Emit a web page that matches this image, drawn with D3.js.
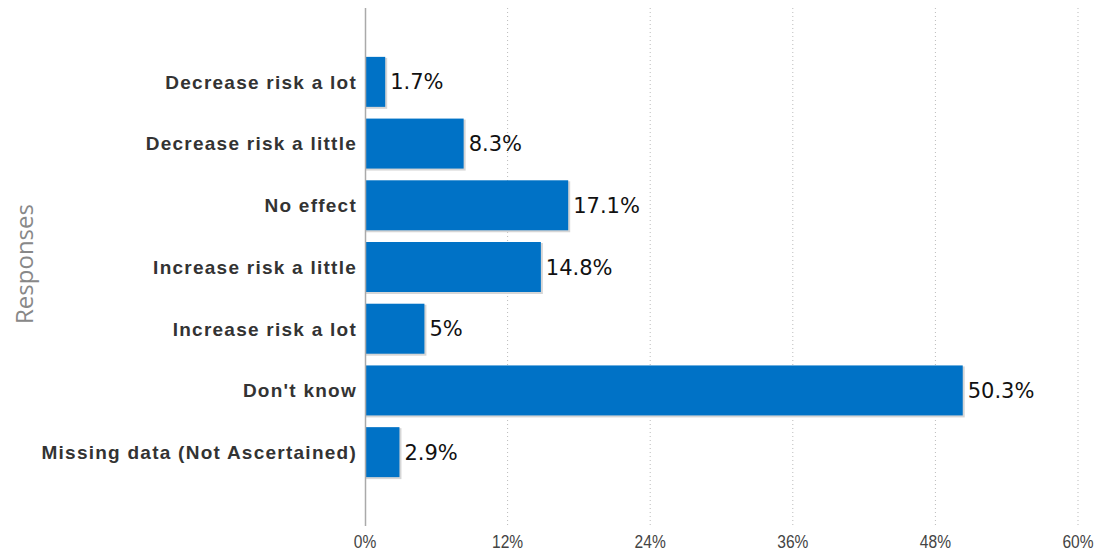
<!DOCTYPE html>
<html>
<head>
<meta charset="utf-8">
<script src="https://cdn.jsdelivr.net/npm/d3@7"></script>
<style>
  body { margin: 0; background: #fff; }
  svg { display: block; }
</style>
</head>
<body>
<svg id="chart" width="1099" height="553"></svg>
<script>
// categories top to bottom
const categories = [
    "Decrease risk a lot",
    "Decrease risk a little",
    "No effect",
    "Increase risk a little",
    "Increase risk a lot",
    "Don't know",
    "Missing data (Not Ascertained)"
];
const values = [1.7, 8.3, 17.1, 14.8, 5, 50.3, 2.9];
const tickValues = [0, 12, 24, 36, 48, 60];

const svg = d3.select("#chart");
const left = 365, right = 1078;
const plotTop = 8, plotBottom = 526;

let x = d3.scaleLinear().domain([0, 60]).range([left, right]);
let y = d3.scaleBand().domain(categories).range([51, 483]).paddingInner(0.19).paddingOuter(0.095);

// dotted grid
svg.append("g")
    .selectAll("line")
    .data(tickValues.slice(1))
    .enter()
    .append("line")
    .attr("x1", d => x(d)).attr("x2", d => x(d))
    .attr("y1", plotTop).attr("y2", plotBottom)
    .attr("stroke", "#bbb")
    .attr("stroke-width", 1)
    .attr("stroke-dasharray", "1,3");

// x tick labels (condensed look)
svg.append("g")
    .selectAll("text")
    .data(tickValues)
    .enter()
    .append("text")
    .attr("transform", d => "translate(" + x(d) + ",548) scale(0.82,1)")
    .attr("text-anchor", "middle")
    .style("font-family", "'Liberation Sans', Arial, sans-serif")
    .style("font-size", "19px")
    .style("fill", "#444")
    .text(d => d + "%");

// bar shadow
let barsG = svg.append("g");
barsG.selectAll("rect.shadow")
    .data(values)
    .enter()
    .append("rect")
    .attr("x", x(0))
    .attr("y", (d, i) => y(categories[i]) + 1)
    .attr("width", d => x(d) - x(0) + 2)
    .attr("height", y.bandwidth() + 1)
    .attr("fill", "#d6d6d6");

barsG.selectAll("rect.bar")
    .data(values)
    .enter()
    .append("rect")
    .attr("class", "bar")
    .attr("x", x(0))
    .attr("y", (d, i) => y(categories[i]))
    .attr("width", d => x(d) - x(0))
    .attr("height", y.bandwidth())
    .attr("fill", "#0072c6");

// value labels
svg.append("g")
    .selectAll("text")
    .data(values)
    .enter()
    .append("text")
    .attr("x", d => x(d) + 5)
    .attr("y", (d, i) => y(categories[i]) + y.bandwidth() / 2)
    .attr("dy", ".36em")
    .style("font-family", "'DejaVu Sans', sans-serif")
    .style("font-size", "21px")
    .style("fill", "#111")
    .text(d => d + "%");

// axis line
svg.append("line")
    .attr("x1", left + 0.5).attr("x2", left + 0.5)
    .attr("y1", plotTop).attr("y2", plotBottom)
    .attr("stroke", "#aaa")
    .attr("stroke-width", 1.5);

// category labels
svg.append("g")
    .selectAll("text")
    .data(categories)
    .enter()
    .append("text")
    .attr("x", left - 8)
    .attr("y", d => y(d) + y.bandwidth() / 2)
    .attr("dy", ".36em")
    .attr("text-anchor", "end")
    .style("font-family", "'Liberation Sans', Arial, sans-serif")
    .style("font-weight", "bold")
    .style("font-size", "19px")
    .style("letter-spacing", "1.25px")
    .style("fill", "#333")
    .text(d => d);

// axis title
svg.append("text")
    .attr("transform", "translate(33,264) rotate(-90)")
    .attr("text-anchor", "middle")
    .style("font-family", "'Open Sans', sans-serif")
    .style("font-size", "24px")
    .style("fill", "#888")
    .text("Responses");
</script>
</body>
</html>
